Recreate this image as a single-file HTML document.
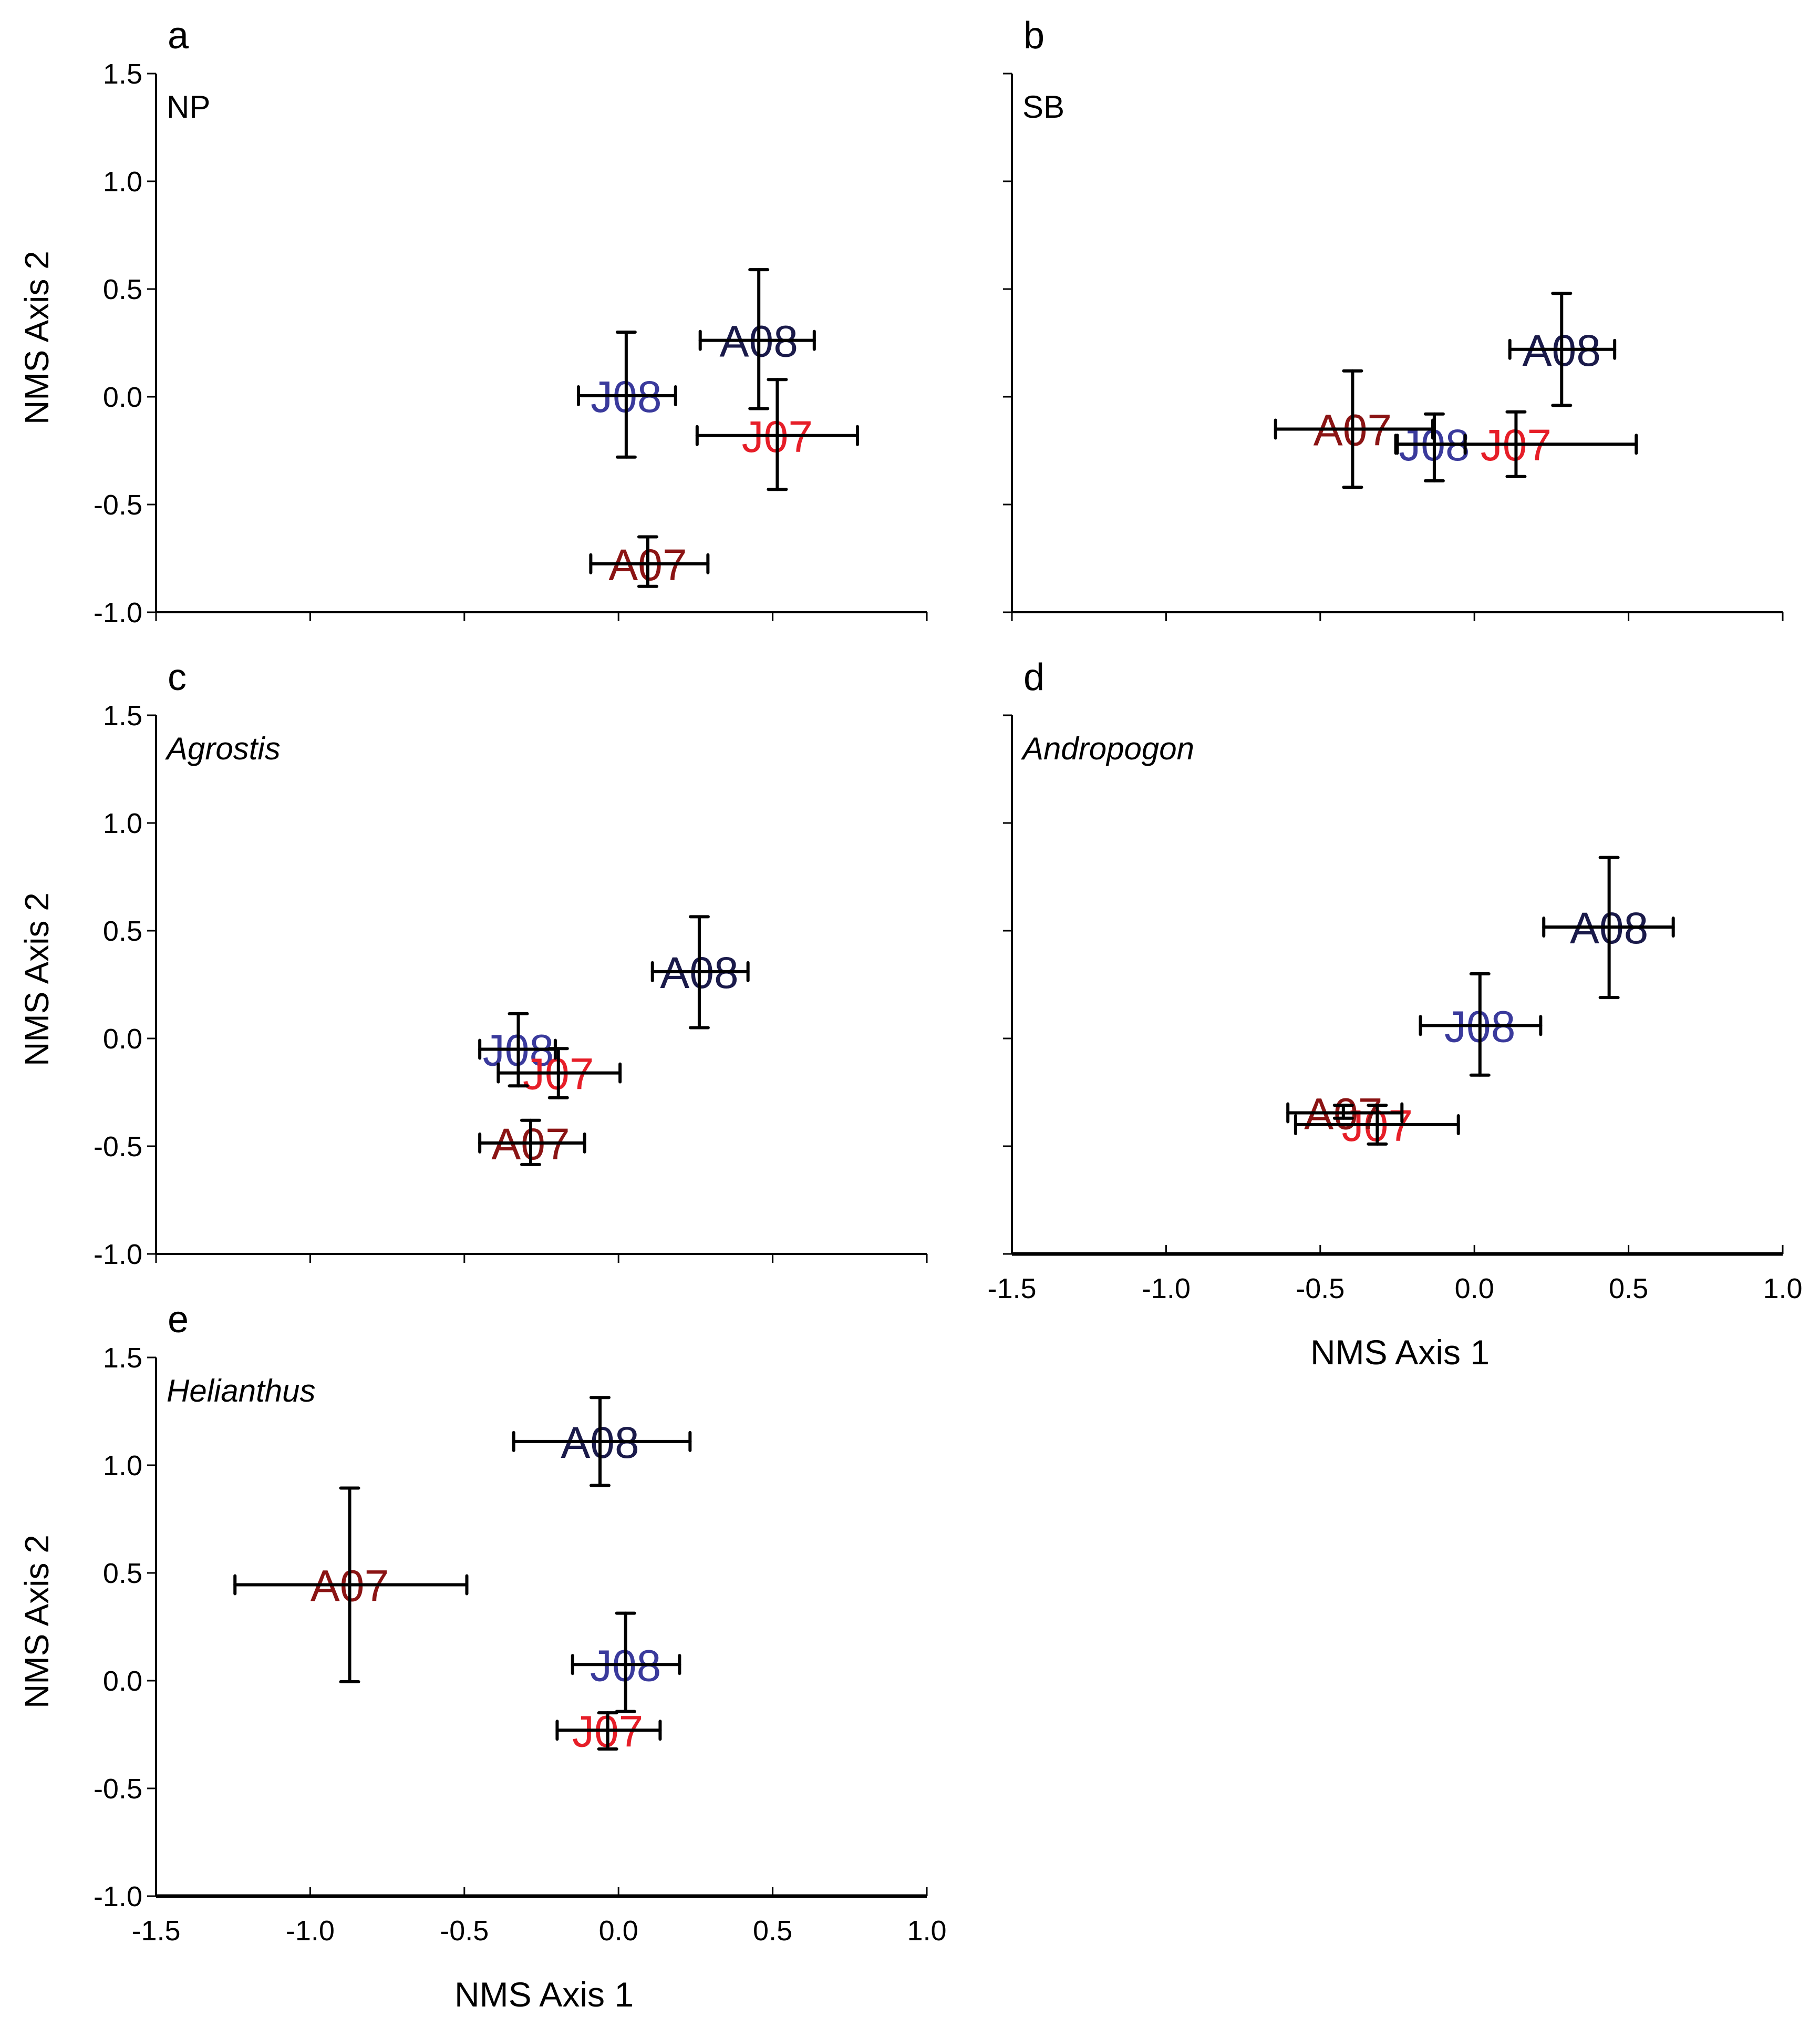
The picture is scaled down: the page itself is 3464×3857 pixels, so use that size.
<!DOCTYPE html>
<html><head><meta charset="utf-8"><style>
html,body{margin:0;padding:0;background:#fff;}
svg{display:block;font-family:"Liberation Sans",Arial,sans-serif;}
</style></head><body>
<svg id="fig" width="3464" height="3857" viewBox="0 0 3464 3857" xmlns="http://www.w3.org/2000/svg"></svg>
<script>
// Data per panel: [x, y, xlo, xhi, ylo, yhi]
const labels = ["A08","J08","J07","A07"];
const colors = ["#1a1a4a","#3a3a9c","#e61e28","#8b1414"];
const panelA = [[0.455,0.262,0.265,0.635,-0.055,0.59],[0.025,0.005,-0.13,0.185,-0.28,0.30],[0.515,-0.18,0.255,0.775,-0.43,0.08],[0.095,-0.775,-0.09,0.29,-0.88,-0.65]];
const panelB = [[0.283,0.22,0.115,0.455,-0.04,0.48],[-0.13,-0.22,-0.25,-0.03,-0.39,-0.08],[0.135,-0.22,-0.255,0.525,-0.37,-0.07],[-0.395,-0.15,-0.645,-0.135,-0.42,0.12]];
const panelC = [[0.262,0.31,0.11,0.42,0.05,0.565],[-0.325,-0.05,-0.45,-0.205,-0.22,0.115],[-0.195,-0.16,-0.39,0.005,-0.275,-0.047],[-0.285,-0.485,-0.45,-0.11,-0.585,-0.38]];
const panelD = [[0.437,0.517,0.225,0.645,0.19,0.84],[0.018,0.06,-0.175,0.215,-0.17,0.30],[-0.315,-0.40,-0.58,-0.052,-0.49,-0.31],[-0.425,-0.345,-0.605,-0.235,-0.37,-0.31]];
const panelE = [[-0.06,1.11,-0.34,0.232,0.906,1.314],[0.023,0.075,-0.149,0.198,-0.143,0.313],[-0.035,-0.23,-0.199,0.135,-0.317,-0.149],[-0.872,0.445,-1.244,-0.492,-0.005,0.894]];
const xTicks = [-1.5,-1.0,-0.5,0.0,0.5,1.0];
const yTicks = [-1.0,-0.5,0.0,0.5,1.0,1.5];
const xTickLabels = ["-1.5","-1.0","-0.5","0.0","0.5","1.0"];
const yTickLabels = ["-1.0","-0.5","0.0","0.5","1.0","1.5"];

const NS="http://www.w3.org/2000/svg";
const svg=document.getElementById('fig');
function mk(tag,attrs,parent,text){const e=document.createElementNS(NS,tag);for(const k in attrs)e.setAttribute(k,attrs[k]);if(text!==undefined)e.textContent=text;(parent||svg).appendChild(e);return e;}

const panels=[
 {id:'a',data:panelA,left:297,top:140,label:'NP',italic:false,xlab:false,xTickUp:false},
 {id:'b',data:panelB,left:1926,top:140,label:'SB',italic:false,xlab:false,xTickUp:false},
 {id:'c',data:panelC,left:297,top:1361,label:'Agrostis',italic:true,xlab:false,xTickUp:false},
 {id:'d',data:panelD,left:1926,top:1361,label:'Andropogon',italic:true,xlab:true,xTickUp:true},
 {id:'e',data:panelE,left:297,top:2583,label:'Helianthus',italic:true,xlab:true,xTickUp:true}
];
const W=1467,H=1025;
panels.forEach(p=>{
  const g=mk('g',{},svg);
  
  
  const sx=v=>p.left+(v+1.5)/2.5*W;
  const sy=v=>p.top+(1.5-v)/2.5*H;
  const bottom=p.top+H;
  const ya=mk('line',{x1:p.left,y1:p.top,x2:p.left,y2:bottom,stroke:'#000','stroke-width':4},g);
  
  
  const xa=mk('line',{x1:p.left,y1:bottom,x2:p.left+W,y2:bottom,stroke:'#000','stroke-width':p.xTickUp?7:4},g);
  
  
  yTicks.forEach((v,i)=>{
    mk('line',{x1:p.left-17,y1:sy(v),x2:p.left,y2:sy(v),stroke:'#000','stroke-width':3},g);
    if(p.id==='a'||p.id==='c'||p.id==='e'){
      const t=mk('text',{x:p.left-26,y:sy(v)+19,'text-anchor':'end','font-size':54,fill:'#000'},g,yTickLabels[i]);
      
      
    }
  });
  xTicks.forEach((v,i)=>{
    const y2=p.xTickUp?bottom-17:bottom+17;
    mk('line',{x1:sx(v),y1:bottom,x2:sx(v),y2:y2,stroke:'#000','stroke-width':3},g);
    if(p.xlab){
      const t=mk('text',{x:sx(v),y:bottom+84,'text-anchor':'middle','font-size':54,fill:'#000'},g,xTickLabels[i]);
      
      
    }
  });
  if(p.xlab){
    const t=mk('text',{x:p.left+W/2+5,y:bottom+210,'text-anchor':'middle','font-size':66,fill:'#000'},g,'NMS Axis 1');
    
    
  }
  if(p.id==='a'||p.id==='c'||p.id==='e'){
    const cy=p.top+H/2-10;
    const t=mk('text',{x:92,y:cy,'text-anchor':'middle','font-size':64,fill:'#000',transform:'rotate(-90 92 '+cy+')'},g,'NMS Axis 2');
    
    
  }
  const lt=mk('text',{x:p.left+22,y:p.top-48,'font-size':72,fill:'#000'},g,p.id);
  
  
  const st=mk('text',{x:p.left+20,y:p.top+84,'font-size':60,fill:'#000','font-style':p.italic?'italic':'normal'},g,p.label);
  
  
  p.data.forEach((d,i)=>{
    const t=mk('text',{x:sx(d[0]),y:sy(d[1])+31,'text-anchor':'middle','font-size':84,fill:colors[i]},g,labels[i]);
    
    
  });
  p.data.forEach((d,i)=>{
    const eg=mk('g',{stroke:'#000','stroke-width':6,'stroke-linecap':'round'},g);
    
    
    const cx=sx(d[0]),cy=sy(d[1]);
    mk('line',{x1:sx(d[2]),y1:cy,x2:sx(d[3]),y2:cy},eg);
    mk('line',{x1:sx(d[2]),y1:cy-17,x2:sx(d[2]),y2:cy+17},eg);
    mk('line',{x1:sx(d[3]),y1:cy-17,x2:sx(d[3]),y2:cy+17},eg);
    mk('line',{x1:cx,y1:sy(d[4]),x2:cx,y2:sy(d[5])},eg);
    mk('line',{x1:cx-17,y1:sy(d[4]),x2:cx+17,y2:sy(d[4])},eg);
    mk('line',{x1:cx-17,y1:sy(d[5]),x2:cx+17,y2:sy(d[5])},eg);
  });
});
</script>
</body></html>
